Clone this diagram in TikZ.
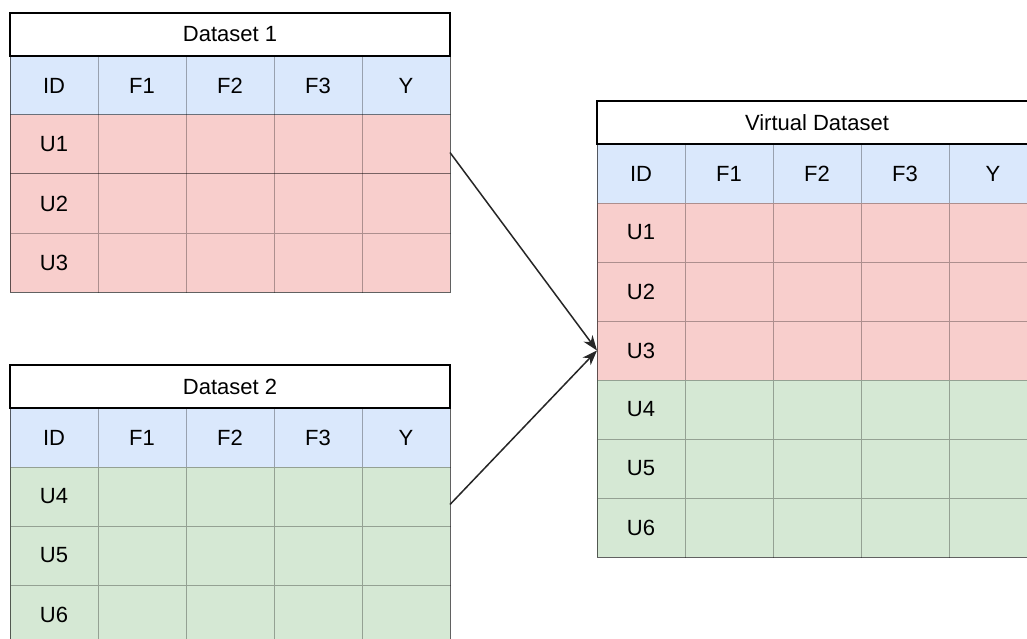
\documentclass[tikz,border=0pt]{standalone}
\usepackage{fontspec}
\setmainfont{Liberation Sans}
\usetikzlibrary{arrows.meta,calc}

\definecolor{hdrblue}{HTML}{DAE8FC}
\definecolor{rowred}{HTML}{F8CECC}
\definecolor{rowgreen}{HTML}{D5E8D4}

\tikzset{
  tablefont/.style={font=\fontsize{22}{26}\selectfont},
  cell/.style={tablefont, draw=black, draw opacity=0.3, line width=1pt,
    minimum width=88pt, minimum height=59pt, inner sep=0pt, outer sep=0pt,
    anchor=north west},
  titlecell/.style={tablefont, draw=black, fill=white, line width=1.2pt,
    minimum width=440pt, minimum height=43pt, inner sep=0pt, outer sep=0pt,
    anchor=north west},
  tableedge/.style={draw=black, draw opacity=0.45, line width=1pt},
  flow/.style={draw=black!85, line width=1.5pt,
    -{Stealth[length=15pt,width=11pt,inset=4.5pt]}}
}

% #1 name, #2 x, #3 y of the top-left corner, #4 title, #5 rows as label/colour
\newcommand\datatable[5]{%
  \node[titlecell] (#1-t) at (#2,#3) {\raisebox{-2pt}{#4}};
  \foreach \h [count=\c from 0] in {ID,F1,F2,F3,Y}
    \node[cell, fill=hdrblue] (#1-h-\c) at ({#2+88*\c},{#3+43}) {\h};
  \foreach \lab/\col [count=\r] in {#5} {
    \node[cell, fill=\col] (#1-\r-0) at (#2,{#3+43+59*\r}) {\lab};
    \foreach \c in {1,...,4}
      \node[cell, fill=\col] (#1-\r-\c) at ({#2+88*\c},{#3+43+59*\r}) {};
    \xdef\lastrow{\r}
  }
  \draw[tableedge] (#1-h-0.north west) rectangle (#1-\lastrow-4.south east);
  \draw[titlecell, fill=none] (#1-t.north west) rectangle (#1-t.south east);
}

\begin{document}
\begin{tikzpicture}[x=1pt, y=-1pt]
  \useasboundingbox (0,0) rectangle (1027,639);
  \clip (0,0) rectangle (1027,639);
  \fill[white] (0,0) rectangle (1027,639);

  \datatable{a}{10}{13}{Dataset 1}{U1/rowred, U2/rowred, U3/rowred}
  \datatable{b}{10}{365}{Dataset 2}{U4/rowgreen, U5/rowgreen, U6/rowgreen}
  \datatable{v}{597}{101}{Virtual Dataset}{U1/rowred, U2/rowred, U3/rowred, U4/rowgreen, U5/rowgreen, U6/rowgreen}

  \coordinate (a-out) at ($(a-t.north east)!0.5!(a-3-4.south east)$);
  \coordinate (b-out) at ($(b-t.north east)!0.5!(b-3-4.south east)$);
  \draw[flow] (a-out) -- (v-3-0.west);
  \draw[flow] (b-out) -- (v-3-0.west);
\end{tikzpicture}
\end{document}
